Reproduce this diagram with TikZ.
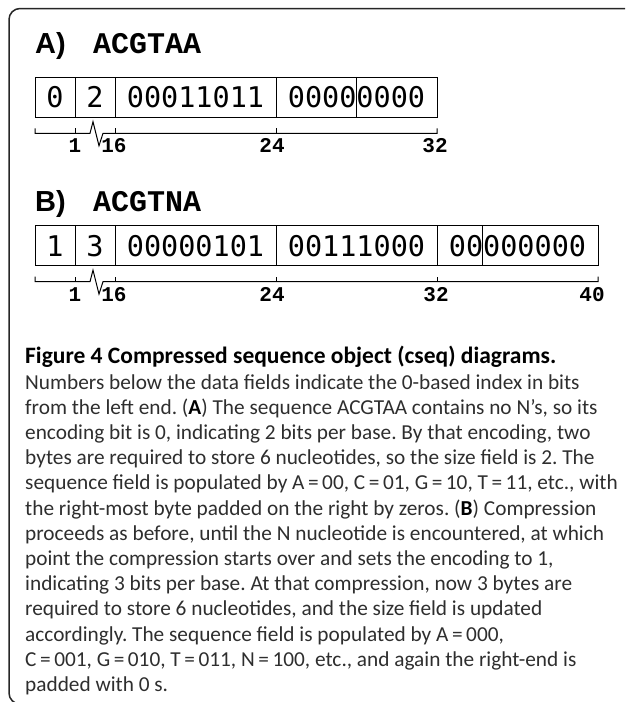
\documentclass[tikz,border=0pt]{standalone}
\usepackage{fontspec}
\setmainfont{Carlito}
\newfontfamily\hsans{Liberation Sans}
\newfontfamily\cmono{Liberation Mono}
\newfontfamily\dmono{DejaVu Sans Mono}
\usetikzlibrary{calc}
\frenchspacing
\tikzset{
  frame/.style={draw=black!85, line width=1.5pt, rounded corners=11pt},
  cell/.style={draw=black, line width=0.9pt, inner sep=0pt, minimum height=40pt,
    font=\dmono\fontsize{28.5}{28.5}\selectfont},
  divline/.style={draw=black, line width=0.7pt},
  scaleline/.style={draw=black, line width=1pt},
  bitlabel/.style={anchor=base, inner sep=0pt, font=\cmono\bfseries\fontsize{21}{21}\selectfont},
  panel/.style={anchor=base west, inner sep=0pt, font=\hsans\bfseries\fontsize{29}{29}\selectfont},
  seqtxt/.style={anchor=base west, inner sep=0pt, font=\cmono\bfseries\fontsize{30}{30}\selectfont},
  capline/.style={anchor=base west, inner sep=0pt, text=black!82, font=\fontsize{21.3}{25}\selectfont},
  caphead/.style={anchor=base west, inner sep=0pt, text=black, font=\bfseries\fontsize{23.5}{25}\selectfont},
}
\begin{document}
\begin{tikzpicture}[x=1pt, y=-1pt]
\useasboundingbox (0,0) rectangle (625,702);
\clip (0,0) rectangle (625,702);
% frame
\draw[frame] (626,8.5) -- (9,8.5) -- (9,704) -- (60,704);

% ---------------- Panel A
\node[panel] (pA) at (35,53.3) {A)};
\node[seqtxt] (sA) at (93,53) {ACGTAA};
\node[cell, minimum width=40pt] (cA1) at (55,97.3) {0};
\node[cell, minimum width=40pt] (cA2) at (95,97.3) {2};
\node[cell, minimum width=161pt] (cA3) at (195.5,97.3) {00011011};
\node[cell, minimum width=161pt] (cA4) at (356.5,97.3) {00000000};
\draw[divline] (cA4.north) -- (cA4.south);
% scale A
\coordinate (tA0) at (35,133.3);
\coordinate (tA1) at (75,133.3);
\coordinate (zA1) at (90,133.3);
\coordinate (zA2) at (93,121.7);
\coordinate (zA3) at (99,145.7);
\coordinate (zA4) at (103,133.3);
\coordinate (tA2) at (115,133.3);
\coordinate (tA3) at (276,133.3);
\coordinate (tA4) at (437,133.3);
\draw[scaleline] ([yshift=5pt]tA0) -- (tA0) -- (tA1) -- (zA1) -- (zA2) -- (zA3) -- (zA4) -- (tA2) -- (tA3) -- (tA4) -- ([yshift=5pt]tA4);
\foreach \t in {tA1,tA2,tA3} \draw[scaleline] (\t) -- ([yshift=5pt]\t);
\node[bitlabel] (lA1) at (75,152.5) {1};
\node[bitlabel] (lA2) at (114,152.5) {16};
\node[bitlabel] (lA3) at (272,152.5) {24};
\node[bitlabel] (lA4) at (435,152.5) {32};

% ---------------- Panel B
\node[panel] (pB) at (35,211.7) {B)};
\node[seqtxt] (sB) at (93,211.5) {ACGTNA};
\node[cell, minimum width=40pt] (cB1) at (55,245.7) {1};
\node[cell, minimum width=40pt] (cB2) at (95,245.7) {3};
\node[cell, minimum width=161pt] (cB3) at (195.5,245.7) {00000101};
\node[cell, minimum width=161pt] (cB4) at (356.5,245.7) {00111000};
\node[cell, minimum width=161pt] (cB5) at (517.5,245.7) {00000000};
\draw[divline] ([xshift=-35pt]cB5.north) -- ([xshift=-35pt]cB5.south);
% scale B
\coordinate (tB0) at (35,281.7);
\coordinate (tB1) at (75,281.7);
\coordinate (zB1) at (90,281.7);
\coordinate (zB2) at (93,270.1);
\coordinate (zB3) at (99,294.1);
\coordinate (zB4) at (103,281.7);
\coordinate (tB2) at (115,281.7);
\coordinate (tB3) at (276,281.7);
\coordinate (tB4) at (437,281.7);
\coordinate (tB5) at (598,281.7);
\draw[scaleline] ([yshift=5pt]tB0) -- (tB0) -- (tB1) -- (zB1) -- (zB2) -- (zB3) -- (zB4) -- (tB2) -- (tB3) -- (tB4) -- (tB5) -- ([yshift=5pt]tB5);
\foreach \t in {tB1,tB2,tB3,tB4} \draw[scaleline] (\t) -- ([yshift=5pt]\t);
\node[bitlabel] (lB1) at (75,301) {1};
\node[bitlabel] (lB2) at (114,301) {16};
\node[bitlabel] (lB3) at (272,301) {24};
\node[bitlabel] (lB4) at (436,301) {32};
\node[bitlabel] (lB5) at (592,301) {40};

% ---------------- Caption
\node[caphead] (h0) at (25,363) {Figure 4 Compressed sequence object (cseq) diagrams.};
\node[capline] (c1) at (25,389.0) {Numbers below the data fields indicate the 0-based index in bits};
\node[capline] (c2) at (25,414.2) {from the left end. (\textbf{\color{black}A}) The sequence ACGTAA contains no N’s, so its};
\node[capline] (c3) at (25,439.4) {encoding bit is 0, indicating 2 bits per base. By that encoding, two};
\node[capline] (c4) at (25,464.6) {bytes are required to store 6 nucleotides, so the size field is 2. The};
\node[capline] (c5) at (25,489.8) {sequence field is populated by A\,=\,00, C\,=\,01, G\,=\,10, T\,=\,11, etc., with};
\node[capline] (c6) at (25,515.0) {the right-most byte padded on the right by zeros. (\textbf{\color{black}B}) Compression};
\node[capline] (c7) at (25,540.2) {proceeds as before, until the N nucleotide is encountered, at which};
\node[capline] (c8) at (25,565.4) {point the compression starts over and sets the encoding to 1,};
\node[capline] (c9) at (25,590.6) {indicating 3 bits per base. At that compression, now 3 bytes are};
\node[capline] (c10) at (25,615.8) {required to store 6 nucleotides, and the size field is updated};
\node[capline] (c11) at (25,641.0) {accordingly. The sequence field is populated by A\,=\,000,};
\node[capline] (c12) at (25,666.2) {C\,=\,001, G\,=\,010, T\,=\,011, N\,=\,100, etc., and again the right-end is};
\node[capline] (c13) at (25,691.4) {padded with 0 s.};
\end{tikzpicture}
\end{document}
